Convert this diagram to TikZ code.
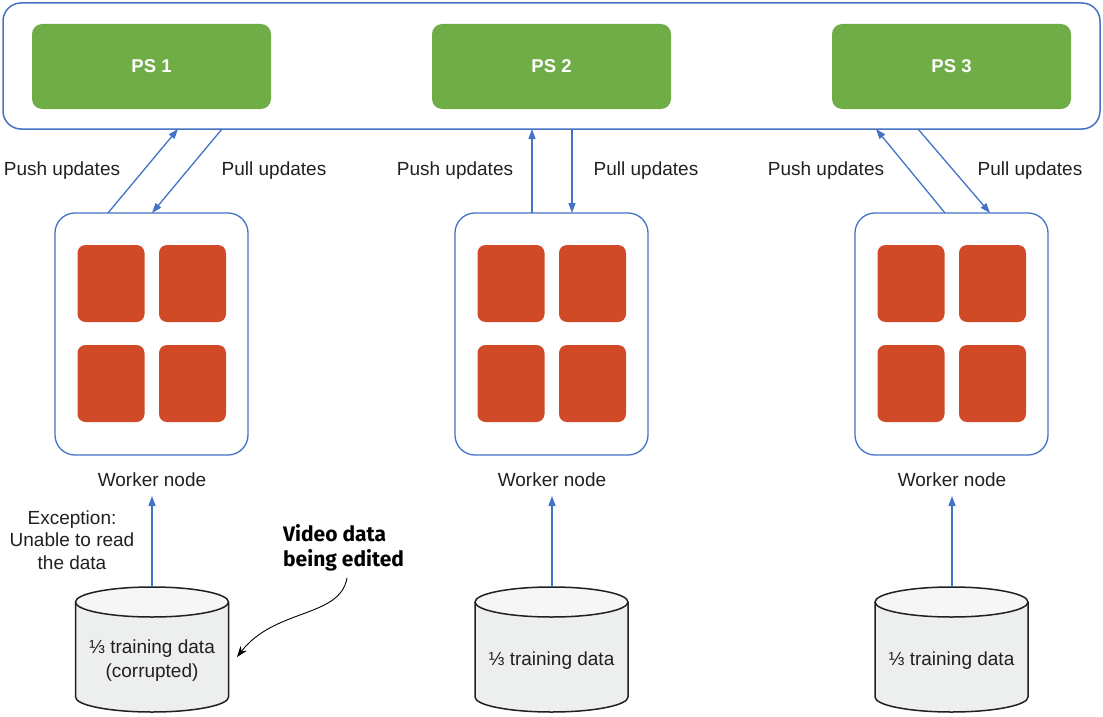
\documentclass[tikz,border=0pt]{standalone}
\usepackage{fontspec}
\setmainfont{Liberation Sans}
\newfontfamily\vfont{Fira Sans}
\usetikzlibrary{arrows.meta,calc}
\definecolor{psgreen}{HTML}{70AD47}
\definecolor{redbox}{HTML}{D04A27}
\definecolor{lblue}{HTML}{4472C4}
\definecolor{txt}{HTML}{231F20}
\definecolor{dbfill}{HTML}{EDEEEE}
\definecolor{dbtop}{HTML}{F6F6F6}
\definecolor{dbline}{HTML}{231F20}
\tikzset{
  container/.style={draw=lblue, line width=1.5pt, rounded corners=18pt, minimum width=1097pt, minimum height=126pt, outer sep=0pt},
  psbox/.style={fill=psgreen, rounded corners=10pt, minimum width=239pt, minimum height=85pt, text=white, font=\fontsize{18.5}{20}\selectfont\bfseries},
  worker/.style={draw=lblue, line width=1.3pt, rounded corners=20pt, minimum width=193pt, minimum height=242pt, outer sep=0pt},
  core/.style={fill=redbox, rounded corners=8pt, minimum width=67pt, minimum height=77pt},
  lbl/.style={text=txt, font=\fontsize{19}{22.5}\selectfont, inner sep=0pt},
  link/.style={draw=lblue, line width=1.3pt, -{Triangle[length=10pt,width=7pt]}},
  dbtext/.style={text=txt, font=\fontsize{19}{24}\selectfont, align=center, inner sep=0pt},
}
\begin{document}
\begin{tikzpicture}[x=1pt,y=1pt]
\useasboundingbox (0,0) rectangle (1103,-717);
% container and parameter servers
\node[container] (top) at (551.5,-66) {};
\node[psbox] (ps1) at (151.5,-66.5) {PS 1};
\node[psbox] (ps2) at (551.5,-66.5) {PS 2};
\node[psbox] (ps3) at (951.5,-66.5) {PS 3};
% workers
\foreach \i/\x in {1/151.5,2/551.5,3/951.5}{
  \node[worker] (w\i) at (\x,-334) {};
  \node[core] (c\i a) at ($(w\i)+(-40.5,50.5)$) {};
  \node[core] (c\i b) at ($(w\i)+(41,50.5)$) {};
  \node[core] (c\i c) at ($(w\i)+(-40.5,-49.5)$) {};
  \node[core] (c\i d) at ($(w\i)+(41,-49.5)$) {};
  \node[lbl] (wl\i) at (\x+0.5,-480) {Worker node};
}
% push / pull labels
\node[lbl] (push1) at (62,-171) {Push updates};
\node[lbl] (pull1) at (274,-171) {Pull updates};
\node[lbl] (push2) at (455,-171) {Push updates};
\node[lbl] (pull2) at (646,-171) {Pull updates};
\node[lbl] (push3) at (826,-171) {Push updates};
\node[lbl] (pull3) at (1030,-171) {Pull updates};
% push / pull arrows
\draw[link] (108,0 |- w1.north) -- (178,0 |- top.south);
\draw[link] (222,0 |- top.south) -- (152,0 |- w1.north);
\draw[link] (532,0 |- w2.north) -- (532,0 |- top.south);
\draw[link] (572,0 |- top.south) -- (572,0 |- w2.north);
\draw[link] (945,0 |- w3.north) -- (876,0 |- top.south);
\draw[link] (918,0 |- top.south) -- (990,0 |- w3.north);
% data stores
\foreach \i/\x/\ax in {1/152/152,2/551.5/552,3/951.5/952}{
  \fill[dbfill] (\x-76.5,-602) -- (\x-76.5,-697) arc[start angle=180,end angle=360,x radius=76.5,y radius=15] -- (\x+76.5,-602) -- cycle;
  \draw[dbline, line width=1.5pt] (\x-76.5,-602) -- (\x-76.5,-697) arc[start angle=180,end angle=360,x radius=76.5,y radius=15] -- (\x+76.5,-602);
  \filldraw[fill=dbtop, draw=dbline, line width=1.5pt] (\x,-602) ellipse[x radius=76.5, y radius=15];
  \coordinate (db\i top) at (\ax,-587);
  \coordinate (wa\i) at (\ax,-496);
  \draw[link] (db\i top) -- (wa\i);
}
\node[dbtext] (db1) at (152,-661) {⅓ training data\\(corrupted)};
\node[dbtext] (db2) at (551.5,-661) {⅓ training data};
\node[dbtext] (db3) at (951.5,-661) {⅓ training data};
% annotations
\node[lbl, align=center] (exc) at (72,-540) {Exception:\\Unable to read\\the data};
\node[text=black, font=\vfont\fontsize{21}{25}\selectfont\bfseries, align=left, inner sep=0pt, anchor=west] (vd) at (283,-547.5) {Video data\\being edited};
\coordinate (vdfrom) at (347,-578);
\coordinate (vdto) at (237,-657);
\draw[black, line width=0.9pt, -{Stealth[length=11pt,width=8pt]}] (vdfrom) .. controls (340,-618) and (275,-608) .. (vdto);
\end{tikzpicture}
\end{document}
